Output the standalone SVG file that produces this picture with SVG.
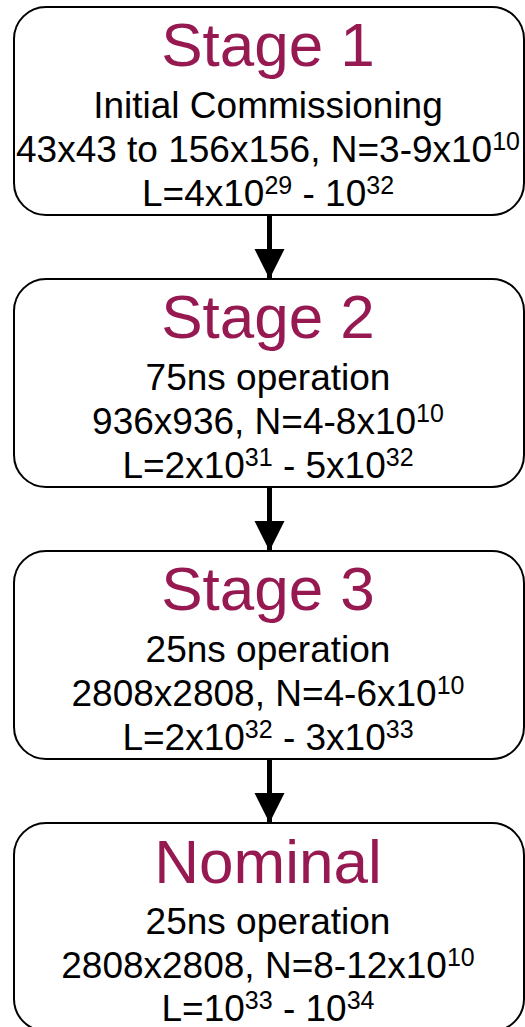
<svg xmlns="http://www.w3.org/2000/svg" width="525" height="1027" viewBox="0 0 525 1027">
<defs>
<style>
.box{fill:#fff;stroke:#000;stroke-width:2}
.title{font-family:"Liberation Sans",Arial,sans-serif;font-size:62px;fill:#961A51;text-anchor:middle}
.body{font-family:"Liberation Sans",Arial,sans-serif;font-size:37px;fill:#000;text-anchor:middle}
.sup{font-size:25px}
.conn{stroke:#000;stroke-width:5;fill:none}
</style>
<marker id="ah" markerUnits="userSpaceOnUse" markerWidth="30" markerHeight="31" refX="30" refY="15" orient="auto" viewBox="0 0 30 30">
<path d="M0,0 L30,15 L0,30 Z" fill="#000"/>
</marker>
</defs>
<rect width="525" height="1027" fill="#fff"/>
<g id="connectors">
<line class="conn" x1="269.5" y1="215" x2="269.5" y2="279" marker-end="url(#ah)"/>
<line class="conn" x1="269.5" y1="487" x2="269.5" y2="551" marker-end="url(#ah)"/>
<line class="conn" x1="269.5" y1="759" x2="269.5" y2="823" marker-end="url(#ah)"/>
</g>
<g id="stage1">
<rect class="box" x="14" y="7" width="510" height="208" rx="32" ry="32"/>
<text class="title" x="268" y="66">Stage 1</text>
<text class="body" x="268" y="118">Initial Commissioning</text>
<text class="body" x="268" y="162">43x43 to 156x156, N=3-9x10<tspan class="sup" dy="-12">10</tspan></text>
<text class="body" x="268" y="206">L=4x10<tspan class="sup" dy="-12">29</tspan><tspan dy="12"> - 10</tspan><tspan class="sup" dy="-12">32</tspan></text>
</g>
<g id="stage2">
<rect class="box" x="14" y="279" width="510" height="208" rx="32" ry="32"/>
<text class="title" x="268" y="338">Stage 2</text>
<text class="body" x="268" y="390">75ns operation</text>
<text class="body" x="268" y="434">936x936, N=4-8x10<tspan class="sup" dy="-12">10</tspan></text>
<text class="body" x="268" y="478">L=2x10<tspan class="sup" dy="-12">31</tspan><tspan dy="12"> - 5x10</tspan><tspan class="sup" dy="-12">32</tspan></text>
</g>
<g id="stage3">
<rect class="box" x="14" y="551" width="510" height="208" rx="32" ry="32"/>
<text class="title" x="268" y="610">Stage 3</text>
<text class="body" x="268" y="662">25ns operation</text>
<text class="body" x="268" y="706">2808x2808, N=4-6x10<tspan class="sup" dy="-12">10</tspan></text>
<text class="body" x="268" y="750">L=2x10<tspan class="sup" dy="-12">32</tspan><tspan dy="12"> - 3x10</tspan><tspan class="sup" dy="-12">33</tspan></text>
</g>
<g id="nominal">
<rect class="box" x="14" y="823" width="510" height="208" rx="32" ry="32"/>
<text class="title" x="268" y="883">Nominal</text>
<text class="body" x="268" y="934">25ns operation</text>
<text class="body" x="268" y="978">2808x2808, N=8-12x10<tspan class="sup" dy="-12">10</tspan></text>
<text class="body" x="268" y="1021">L=10<tspan class="sup" dy="-12">33</tspan><tspan dy="12"> - 10</tspan><tspan class="sup" dy="-12">34</tspan></text>
</g>
</svg>
